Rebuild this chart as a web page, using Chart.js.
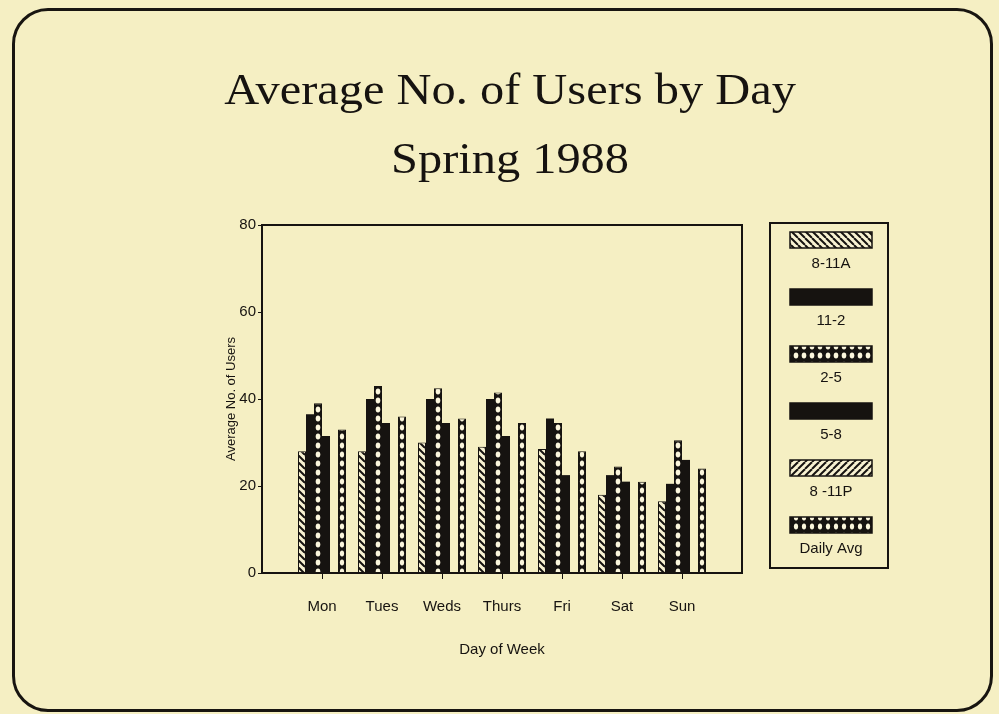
<!DOCTYPE html>
<html><head><meta charset="utf-8">
<script src="https://cdn.jsdelivr.net/npm/chart.js@4/dist/chart.umd.min.js"></script>
<style>
html,body{margin:0;padding:0;background:#f5efc3;}
#wrap{position:relative;width:999px;height:714px;overflow:hidden}
#frame{position:absolute;left:12px;top:8px;width:981px;height:704px;border:3px solid #181510;border-radius:36px;box-sizing:border-box;pointer-events:none}
canvas{position:absolute;left:0;top:0}
</style></head><body>
<div id="wrap"><canvas id="c" width="999" height="714"></canvas><div id="frame"></div></div>
<script>
// ---- data ----
const titleLines = ['Average No. of Users by Day', 'Spring 1988'];
const days = ['Mon','Tues','Weds','Thurs','Fri','Sat','Sun'];
const seriesNames = ['8-11A','11-2','2-5','5-8','8 -11P','Daily Avg'];
const users8to11A = [28, 28, 30, 29, 28.5, 18, 16.5];
const users11to2  = [36.5, 40, 40, 40, 35.5, 22.5, 20.5];
const users2to5   = [39, 43, 42.5, 41.5, 34.5, 24.5, 30.5];
const users5to8   = [31.5, 34.5, 34.5, 31.5, 22.5, 21, 26];
const users8to11P = [null, null, null, null, null, null, null];
const usersDailyAvg = [33, 36, 35.5, 34.5, 28, 21, 24];
const yTicks = [0, 20, 40, 60, 80];

const INK = '#161310';
const kinds = ['hatchB','solid','dots','solid','hatchF','wave'];
const seriesData = [users8to11A, users11to2, users2to5, users5to8, users8to11P, usersDailyAvg];

function tile(kind){
  const c = document.createElement('canvas');
  const g = c.getContext('2d');
  if (kind === 'dots' || kind === 'wave'){
    c.width = 8; c.height = 9;
    g.fillStyle = INK; g.fillRect(0,0,8,9);
    g.fillStyle = '#fbf6dc';
    g.beginPath(); g.ellipse(4, 4.5, kind==='dots'?2.3:2.1, 3, 0, 0, Math.PI*2); g.fill();
  } else if (kind === 'hatchB' || kind === 'hatchF'){
    c.width = 7; c.height = 7;
    g.fillStyle = '#f8f2d2'; g.fillRect(0,0,7,7);
    g.strokeStyle = INK; g.lineWidth = 2;
    for (const k of [-7,0,7]){
      g.beginPath();
      if (kind === 'hatchB'){ g.moveTo(k,0); g.lineTo(k+7,7); }
      else { g.moveTo(k,7); g.lineTo(k+7,0); }
      g.stroke();
    }
  }
  return c;
}
const mainCtx = document.getElementById('c').getContext('2d');
function pattern(kind, dx){
  if (kind === 'solid') return INK;
  const p = mainCtx.createPattern(tile(kind), 'repeat');
  if (dx !== undefined && p.setTransform) p.setTransform(new DOMMatrix().translate(dx, 0));
  return p;
}
const CAT_PCT = 0.8;
function bg(kind){
  return (ctx) => {
    if (kind === 'solid') return INK;
    if (ctx.type !== 'data') return pattern(kind);
    const sx = ctx.chart.scales.x;
    const step = sx.getPixelForValue(1) - sx.getPixelForValue(0);
    const bw = step * CAT_PCT / 6;
    const left = sx.getPixelForValue(ctx.dataIndex) + (ctx.datasetIndex - 3) * bw;
    return pattern(kind, Math.round(left));
  };
}

const labels = ['', ...days, ''];
const datasets = seriesNames.map((name, i) => ({
  label: name,
  data: [null, ...seriesData[i], null],
  backgroundColor: bg(kinds[i]),
  borderColor: INK,
  borderWidth: kinds[i] === 'solid' ? 0 : 1,
  borderSkipped: 'bottom',
  categoryPercentage: CAT_PCT,
  barPercentage: 1.0
}));

const SANS = '"Liberation Sans", "DejaVu Sans", sans-serif';
const SERIF = '"Liberation Serif", "DejaVu Serif", serif';

const decor = {
  id: 'decor',
  afterDraw(chart){
    const g = chart.ctx, a = chart.chartArea;
    g.save();
    // title (two lines, slightly widened serif)
    g.fillStyle = INK; g.font = '44px ' + SERIF;
    g.textAlign = 'center'; g.textBaseline = 'alphabetic';
    [[titleLines[0], 104], [titleLines[1], 173]].forEach(([t, y]) => {
      g.save(); g.translate(510, y); g.scale(1.1, 1); g.fillText(t, 0, 0); g.restore();
    });
    // plot frame
    g.strokeStyle = INK; g.lineWidth = 2;
    g.strokeRect(a.left, a.top, a.right - a.left, a.bottom - a.top);
    // legend box
    const lx = 770, ly = 223, lw = 118, lh = 345;
    g.strokeRect(lx, ly, lw, lh);
    g.font = '15px ' + SANS;
    g.textAlign = 'center'; g.textBaseline = 'middle';
    chart.data.datasets.forEach((ds, i) => {
      const y = ly + 9 + i * 57;
      g.fillStyle = pattern(kinds[i]);
      g.fillRect(lx + 20, y, 82, 16);
      g.lineWidth = 1.5; g.strokeStyle = INK;
      g.strokeRect(lx + 20, y, 82, 16);
      g.fillStyle = INK;
      g.fillText(ds.label, lx + 61, y + 32);
    });
    g.restore();
  }
};

new Chart(document.getElementById('c'), {
  type: 'bar',
  data: { labels, datasets },
  options: {
    responsive: false,
    animation: false,
    layout: { padding: { left: 220, right: 257, bottom: 51, top: 225 } },
    plugins: {
      legend: { display: false },
      tooltip: { enabled: false },
      title: { display: false }
    },
    scales: {
      x: {
        type: 'category',
        offset: false,
        grid: {
          display: true, offset: false, drawOnChartArea: false, drawTicks: true, tickLength: 6, lineWidth: 1,
          color: (c) => (c.index === 0 || c.index === labels.length - 1) ? 'rgba(0,0,0,0)' : INK
        },
        border: { display: true, color: INK, width: 2 },
        ticks: { color: INK, font: { family: SANS, size: 15 }, padding: 19, autoSkip: false, maxRotation: 0 },
        title: { display: true, text: 'Day of Week', color: INK, font: { family: SANS, size: 15 }, padding: { top: 14 } },
        afterFit(s){ s.height = 90; }
      },
      y: {
        min: 0, max: 80,
        afterBuildTicks(s){ s.ticks = yTicks.map(v => ({ value: v })); },
        grid: { display: true, drawOnChartArea: false, drawTicks: true, tickLength: 4, color: INK },
        border: { display: true, color: INK, width: 2 },
        ticks: { color: INK, font: { family: SANS, size: 15 }, padding: 2 },
        title: { display: true, text: 'Average No. of Users', color: INK, font: { family: SANS, size: 13 }, padding: 4 },
        afterFit(s){ s.width = 42; }
      }
    }
  },
  plugins: [decor]
});
</script>
</body></html>
